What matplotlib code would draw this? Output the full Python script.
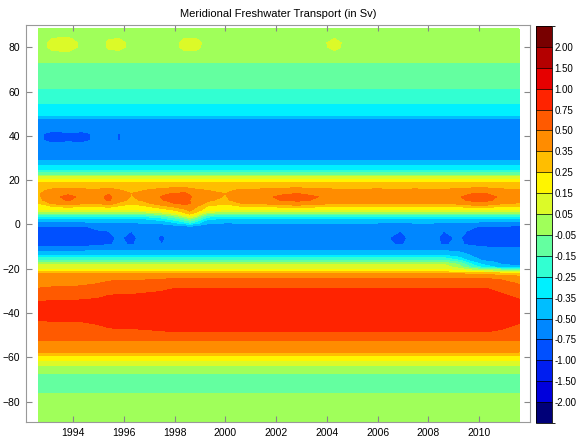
import numpy as np
import matplotlib.pyplot as plt
from matplotlib.colors import ListedColormap, BoundaryNorm
from matplotlib.cm import ScalarMappable

plt.rcParams['font.family'] = ['Liberation Sans', 'DejaVu Sans']

# time nodes (decimal years)
years = [1992.63, 1993.2, 1993.8, 1994.4, 1995.0, 1995.4, 1995.8, 1996.3, 1996.8,
         1997.5, 1998.0, 1998.4, 1998.6, 1998.85, 1999.3, 2000.0, 2000.6, 2001.5,
         2002.4, 2002.9, 2003.5, 2004.3, 2005.0, 2006.0, 2006.9, 2007.5, 2008.2,
         2008.6, 2009.2, 2009.8, 2010.3, 2010.9, 2011.57]

# latitude nodes and mean transport profile (Sv)
lats = [-89, -78, -76.4, -72, -67.3, -63.6, -61.3, -59.1, -57.6, -52.3, -48.5, -44,
        -40, -37, -34, -31, -28.9, -26.5, -24.4, -22, -21.4, -20.3, -19.2, -18, -17,
        -16.1, -15, -13.9, -11.6, -11, -9, -6, -3, -1, 0.6, 2.8, 3.8, 4.5, 5.1, 5.8,
        6.6, 8.1, 9.6, 11, 12.5, 14, 15.5, 18.6, 20.5, 21.5, 22.3, 23.3, 24.5, 26.8,
        29, 35, 38, 41, 44, 46, 48, 49.4, 54.8, 61.6, 73, 76, 78, 80, 82, 84, 88.3]
base = [0.0, 0.0, -0.05, -0.10, -0.05, 0.05, 0.15, 0.25, 0.35, 0.5, 0.75, 0.86,
        0.92, 0.90, 0.86, 0.80, 0.75, 0.62, 0.5, 0.35, 0.25, 0.15, 0.10, 0.05, -0.05,
        -0.15, -0.25, -0.35, -0.5, -0.62, -0.71, -0.72, -0.70, -0.66, -0.5, -0.35,
        -0.25, -0.15, -0.05, 0.05, 0.15, 0.25, 0.37, 0.45, 0.47, 0.44, 0.37, 0.26,
        0.15, 0.05, -0.05, -0.15, -0.25, -0.35, -0.5, -0.64, -0.67, -0.67, -0.64,
        -0.6, -0.5, -0.35, -0.25, -0.15, -0.05, -0.03, 0.0, 0.01, 0.02, 0.015, 0.0]

# time anomalies (Sv) of single features, with their latitude footprint
ntrop_amp = [-0.15, 0.0, 0.06, 0.0, -0.02, 0.07, -0.05, -0.13, -0.08, 0.04, 0.10,
             0.12, 0.05, -0.02, -0.08, -0.13, -0.03, 0.0, 0.07, 0.08, 0.04, -0.01,
             -0.02, 0.0, -0.02, 0.0, -0.03, -0.02, 0.02, 0.09, 0.08, 0.0, -0.04]
ntrop_lat = [8.1, 9.6, 11, 12.5, 14, 15.5]
ntrop_w = [0.4, 0.8, 1, 1, 0.7, 0.3]

dip_amp = [0, 0, 0, 0, 0, 0, 0, 0, 0.02, 0.1, 0.2, 0.32, 0.4, 0.3, 0.05, 0, 0, 0,
           0, 0, 0, 0, 0, 0, 0, 0, 0, 0, 0, 0, 0, 0, 0]
dip_lat = [-3, -1, 0.6, 2.8, 3.8, 5.1, 6.6, 8.1, 9.6, 11]
dip_w = [0, 0.3, 0.62, 0.88, 1, 0.88, 0.55, 0.38, 0.25, 0]

seq_amp = [-0.10, -0.12, -0.12, -0.10, -0.06, -0.05, -0.02, -0.05, 0.0, -0.04,
           0.0, 0, 0, 0, 0, -0.02, 0, 0, 0, 0, 0, 0, 0, -0.01, -0.05, 0.0, -0.01,
           -0.05, -0.02, -0.08, -0.12, -0.13, -0.14]
seq_lat = [-13.9, -11.6, -11, -9, -6, -3, -1, 0.6, 2.8]
seq_w = [0, 0.3, 0.6, 1, 1, 1, 1, 0.5, 0]

ssub_amp = [-0.13, -0.12, -0.12, -0.11, -0.09, -0.06, -0.05, -0.05, -0.04, -0.02,
            0, 0, 0, 0, 0, 0, 0, 0, 0, 0, 0, 0, 0, 0, 0, 0, 0, 0, 0, 0, 0, -0.04, -0.1]
ssub_lat = [-52.3, -48.5, -44, -40, -37, -34, -31, -28.9, -26.5, -24.4, -22]
ssub_w = [0, 0.6, 1, 0.4, 0.7, 1, 1.3, 1.9, 1.4, 0.8, 0]

send_amp = [0, 0, 0, 0, 0, 0, 0, 0, 0, 0, 0, 0, 0, 0, 0, 0, 0, 0, 0, 0, 0, 0,
            0, 0, 0, 0, 0, 0, -0.1, -0.3, -0.4, -0.5, -0.55]
send_lat = [-24.4, -22, -21.4, -20.3, -19.2, -18, -17, -16.1, -15, -13.9, -11.6, -11]
send_w = [0, 0.15, 0.3, 0.5, 1.0, 1.1, 1, 1, 0.8, 0.6, 0.3, 0]

arc_amp = [0, 0.06, 0.07, 0.02, 0, 0.05, 0.06, 0.02, 0, 0, 0.02, 0.06, 0.06, 0.06,
           0.01, 0, 0, 0, 0, 0, 0, 0.06, 0, 0, 0, 0, 0, 0, 0, 0, 0, 0, 0]
arc_lat = [73, 76, 80, 84, 88.3]
arc_w = [0, 0.4, 1, 0.6, 0]

nmid_amp = [-0.06, -0.12, -0.10, -0.11, -0.05, 0, -0.09, 0, 0, 0, 0, 0, 0, 0, 0,
            0, 0, 0, 0, 0, 0, 0, 0, 0, 0, 0, 0, 0, 0, 0, 0, 0, 0]
nmid_lat = [29, 35, 38, 41, 44, 48]
nmid_w = [0, 0.4, 1, 1, 0.3, 0]

levels = [-2.0, -1.5, -1.0, -0.75, -0.5, -0.35, -0.25, -0.15, -0.05,
          0.05, 0.15, 0.25, 0.35, 0.5, 0.75, 1.0, 1.5, 2.0]
colors = ['#000078', '#0000DC', '#001EF0', '#0050FF', '#0087FF', '#00BEFF',
          '#00F0FF', '#32FFD2', '#64FFA0', '#A0FF5A', '#DCFA28', '#FFF500',
          '#FFBE00', '#FF8C00', '#FF5A00', '#FF2300', '#E60000', '#B40000', '#780000']


def footprint(lat_pts, weights):
    return np.interp(lats, lat_pts, weights, left=0, right=0)


Z = np.array(base)[None, :] * np.ones((len(years), 1))
for amp, lp, w in [(ntrop_amp, ntrop_lat, ntrop_w), (dip_amp, dip_lat, dip_w),
                   (seq_amp, seq_lat, seq_w), (ssub_amp, ssub_lat, ssub_w),
                   (send_amp, send_lat, send_w), (arc_amp, arc_lat, arc_w),
                   (nmid_amp, nmid_lat, nmid_w)]:
    Z += np.outer(amp, footprint(lp, w))

bounds = [-3.0] + levels + [3.0]
cmap = ListedColormap(colors)
norm = BoundaryNorm(bounds, cmap.N)

fig = plt.figure(figsize=(5.79, 4.41), dpi=100)
ax = fig.add_axes([26 / 579, 19 / 441, 504 / 579, 397 / 441])
ax.contourf(years, lats, Z.T, levels=bounds, colors=colors)

ax.set_xlim(1992.15, 2012.0)
ax.set_ylim(-89.2, 90.1)
ax.set_xticks(range(1994, 2011, 2))
ax.set_yticks(range(-80, 81, 20))
ax.tick_params(direction='in', length=4, width=0.8, color='#888888',
               labelsize=7.5, top=True, right=True, pad=4)
for s in ax.spines.values():
    s.set_color('#999999')
    s.set_linewidth(0.8)
ax.set_title('Meridional Freshwater Transport (in Sv)', fontsize=8, pad=6)

cax = fig.add_axes([536 / 579, 18 / 441, 16 / 579, 397 / 441])
cb = fig.colorbar(ScalarMappable(norm=norm, cmap=cmap), cax=cax, ticks=levels,
                  spacing='uniform', drawedges=True)
cb.ax.set_yticklabels([f'{v:.2f}' for v in levels])
cb.ax.tick_params(length=0, labelsize=7, pad=2)
cb.outline.set_linewidth(0.6)
cb.dividers.set_linewidth(0.5)

plt.savefig('out.png', dpi=100)
